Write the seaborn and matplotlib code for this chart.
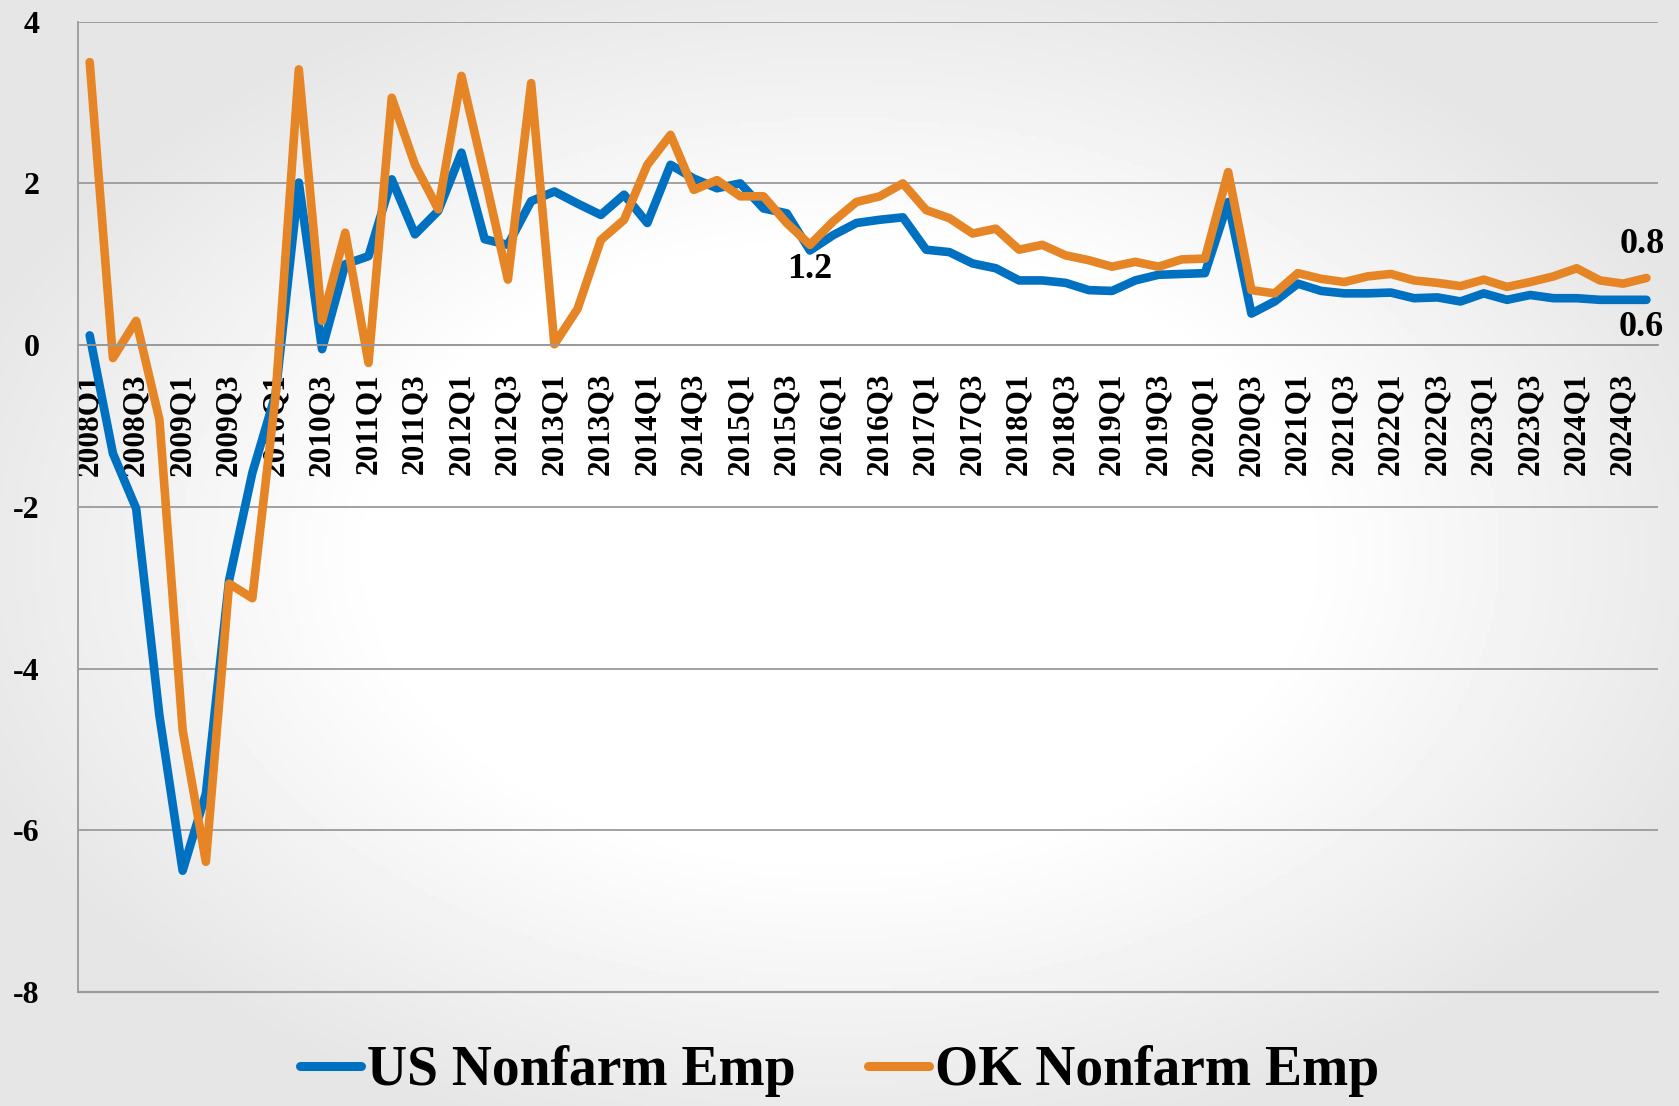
#!/usr/bin/env python3

from matplotlib import pyplot as plt
from matplotlib.lines import Line2D
import numpy as np
import pandas as pd
import seaborn as sns


quarters = [f"{y}Q{q}" for y in range(2008, 2025) for q in range(1, 5)]

us_emp = [
    0.12, -1.34, -2.02, -4.58, -6.50, -5.55, -2.91, -1.58,
    -0.61, 2.01, -0.05, 1.00, 1.10, 2.05, 1.37, 1.66,
    2.38, 1.31, 1.24, 1.78, 1.90, 1.75, 1.61, 1.86,
    1.51, 2.23, 2.06, 1.94, 2.00, 1.69, 1.63, 1.17,
    1.36, 1.51, 1.55, 1.58, 1.18, 1.15, 1.01, 0.95,
    0.80, 0.80, 0.77, 0.68, 0.67, 0.80, 0.87, 0.88,
    0.89, 1.77, 0.39, 0.54, 0.76, 0.67, 0.64, 0.64,
    0.65, 0.58, 0.59, 0.54, 0.64, 0.56, 0.62, 0.58,
    0.58, 0.56, 0.56, 0.56,
]
ok_emp = [
    3.50, -0.16, 0.30, -0.92, -4.76, -6.39, -2.95, -3.13,
    -0.63, 3.41, 0.30, 1.39, -0.22, 3.06, 2.23, 1.68,
    3.33, 2.09, 0.81, 3.24, 0.01, 0.45, 1.30, 1.55,
    2.23, 2.60, 1.92, 2.04, 1.84, 1.84, 1.51, 1.24,
    1.53, 1.77, 1.84, 2.00, 1.67, 1.57, 1.38, 1.44,
    1.18, 1.24, 1.11, 1.05, 0.97, 1.03, 0.97, 1.06,
    1.07, 2.14, 0.68, 0.64, 0.89, 0.82, 0.78, 0.85,
    0.88, 0.80, 0.77, 0.73, 0.81, 0.72, 0.78, 0.85,
    0.95, 0.80, 0.76, 0.83,
]
series_names = ["US Nonfarm Emp", "OK Nonfarm Emp"]

BLUE = "#0070C0"
ORANGE = "#E68526"
GRID = "#9a9a9a"


def main():
    sns.set_style("white")
    plt.rcParams["font.family"] = ["Liberation Serif", "DejaVu Serif"]
    plt.rcParams["font.weight"] = "bold"
    plt.rcParams["axes.unicode_minus"] = False
    plt.rcParams["text.color"] = "black"
    plt.rcParams["xtick.color"] = "black"
    plt.rcParams["ytick.color"] = "black"

    n = len(quarters)
    df = pd.DataFrame({
        "idx": list(range(n)) * 2,
        "value": us_emp + ok_emp,
        "series": [series_names[0]] * n + [series_names[1]] * n,
    })

    fig = plt.figure(figsize=(16.79, 11.06), dpi=100)

    # soft radial background like the slide
    bg = fig.add_axes([0, 0, 1, 1], zorder=-10)
    xx, yy = np.meshgrid(np.linspace(-1, 1, 400), np.linspace(-1, 1, 300))
    r = np.sqrt(xx ** 2 + yy ** 2)
    shade = 1 - 0.09 * np.clip(r - 0.55, 0, None) / 0.5
    shade = np.clip(shade, 0.9, 1)
    bg.imshow(shade, cmap="gray", vmin=0, vmax=1, aspect="auto",
              extent=[0, 1, 0, 1])
    bg.axis("off")

    ax = fig.add_axes([0.0465, 0.1031, 0.941, 0.8773])
    ax.set_facecolor("none")

    sns.lineplot(data=df, x="idx", y="value", hue="series",
                 palette=[BLUE, ORANGE], linewidth=6.2, sort=False,
                 legend=False, ax=ax)
    for line in ax.lines:
        line.set_solid_capstyle("round")
        line.set_solid_joinstyle("round")

    ax.set_xlim(-0.5, n - 0.5)
    ax.set_ylim(-8, 4)
    ax.set_xlabel("")
    ax.set_ylabel("")

    ax.set_xticks(range(0, n, 2))
    ax.set_xticks(np.arange(-0.5, n, 1), minor=True)
    ax.tick_params(axis="x", which="major", length=0, pad=20,
                   labelrotation=90, labelsize=22.5)
    ax.tick_params(axis="x", which="minor", length=8, width=1.3,
                   color=GRID, direction="out")
    ax.set_xticklabels(quarters[::2], va="top", ha="center",
                       fontweight="bold")

    ax.set_yticks(range(-8, 5, 2))
    ax.tick_params(axis="y", which="major", length=8.6, width=1.3,
                   color=GRID, pad=19, labelsize=23)

    ax.yaxis.grid(True, color=GRID, linewidth=1.3)
    ax.xaxis.grid(False)
    ax.axhline(-8, color=GRID, linewidth=1.6, clip_on=False, zorder=1)
    for side in "top", "right":
        ax.spines[side].set_visible(False)
    ax.spines["left"].set_color(GRID)
    ax.spines["left"].set_linewidth(1.3)
    ax.spines["bottom"].set_color(GRID)
    ax.spines["bottom"].set_linewidth(1.3)
    ax.spines["bottom"].set_position(("data", 0))

    ax.annotate(f"{us_emp[31]:.1f}", (31, us_emp[31]), xytext=(0, -14),
                textcoords="offset points", ha="center", va="center",
                fontsize=26, fontweight="bold")
    ax.annotate(f"{ok_emp[-1]:.1f}", (n - 1, ok_emp[-1]), xytext=(-3, 24),
                textcoords="offset points", ha="center", va="center",
                fontsize=26, fontweight="bold", annotation_clip=False)
    ax.annotate(f"{us_emp[-1]:.1f}", (n - 1, us_emp[-1]), xytext=(-4, -20),
                textcoords="offset points", ha="center", va="center",
                fontsize=26, fontweight="bold", annotation_clip=False)

    handles = [
        Line2D([0], [0], color=BLUE, lw=6.5, solid_capstyle="round"),
        Line2D([0], [0], color=ORANGE, lw=6.5, solid_capstyle="round"),
    ]
    fig.legend(handles, series_names, loc="center",
               bbox_to_anchor=(0.5, 0.0316), ncol=2, frameon=False,
               fontsize=40, handlelength=1.1, handletextpad=0.1,
               columnspacing=1.3)

    fig.savefig("out.png", dpi=100)


if __name__ == "__main__":
    main()
